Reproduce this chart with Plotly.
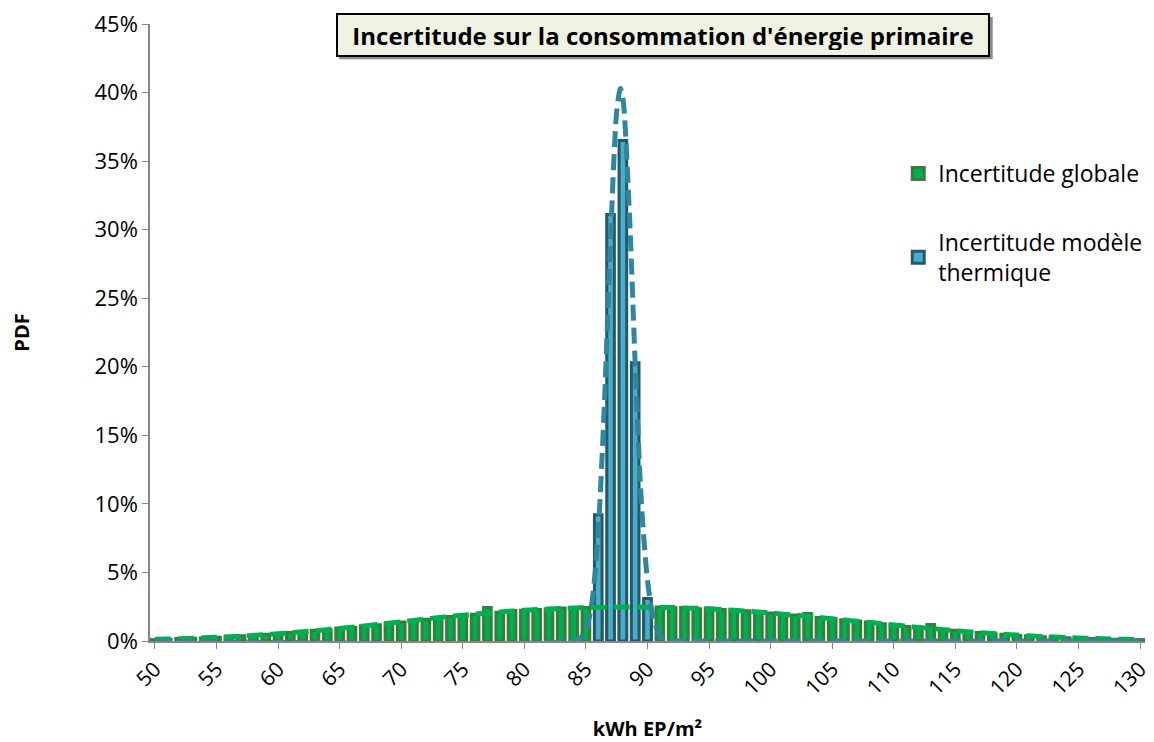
import plotly.graph_objects as go

# x positions (kWh EP/m2), one bin per unit
x_glob = list(range(50, 131))

# global uncertainty: bar heights (%)
glob_bars = [0.10, 0.12, 0.18, 0.20, 0.22, 0.28, 0.30, 0.38, 0.40, 0.50,
             0.52, 0.62, 0.66, 0.78, 0.82, 0.95, 1.00, 1.12, 1.18, 1.32,
             1.38, 1.52, 1.58, 1.74, 1.78, 1.92, 1.95, 2.45, 2.10, 2.22,
             2.25, 2.30, 2.32, 2.40, 2.38, 2.45, 2.44, 2.48, 2.46, 2.50,
             2.45, 2.48, 2.42, 2.44, 2.36, 2.40, 2.30, 2.28, 2.20, 2.14,
             2.05, 1.98, 1.90, 2.00, 1.72, 1.64, 1.55, 1.45, 1.38, 1.25,
             1.20, 1.06, 1.02, 1.20, 0.85, 0.78, 0.66, 0.62, 0.52, 0.50,
             0.40, 0.39, 0.31, 0.30, 0.24, 0.22, 0.18, 0.16, 0.13, 0.12,
             0.10]

# global uncertainty: fitted curve (%)
glob_curve = [0.12, 0.14, 0.17, 0.20, 0.23, 0.27, 0.31, 0.36, 0.41, 0.47,
              0.53, 0.60, 0.67, 0.75, 0.83, 0.92, 1.01, 1.10, 1.20, 1.30,
              1.40, 1.50, 1.60, 1.70, 1.80, 1.88, 1.96, 2.04, 2.11, 2.18,
              2.24, 2.29, 2.34, 2.38, 2.41, 2.44, 2.46, 2.47, 2.48, 2.48,
              2.47, 2.46, 2.44, 2.41, 2.38, 2.34, 2.29, 2.24, 2.18, 2.11,
              2.04, 1.96, 1.88, 1.80, 1.71, 1.62, 1.53, 1.44, 1.35, 1.26,
              1.17, 1.08, 0.99, 0.91, 0.83, 0.75, 0.68, 0.61, 0.55, 0.49,
              0.43, 0.38, 0.33, 0.29, 0.25, 0.22, 0.19, 0.16, 0.14, 0.12,
              0.10]

# thermal model uncertainty: bars (%)
x_therm = [86, 87, 88, 89, 90]
therm_bars = [9.2, 31.1, 36.5, 20.3, 3.1]

# thermal model uncertainty: fitted curve (%)
x_therm_curve = [50, 84, 84.5, 85, 85.5, 86, 86.5, 87, 87.5, 87.8, 88, 88.5,
                 89, 89.5, 90, 90.5, 91, 91.5, 92, 130]
therm_curve = [0, 0, 0.2, 0.8, 2.9, 8.0, 17.3, 29.3, 38.6, 40.3, 39.6, 31.8,
               20.2, 10.2, 4.4, 1.6, 0.4, 0, 0, 0]

green = "#00b050"
green_dark = "#377d3b"
blue = "#4bacc6"
blue_dark = "#215a6d"
blue_line = "#31859c"
font = "Open Sans"
title_text = "<b>Incertitude sur la consommation d'énergie primaire</b>"

fig = go.Figure()
fig.add_trace(go.Bar(
    x=x_glob, y=glob_bars, width=0.62, name="Incertitude globale",
    marker=dict(color=green, line=dict(color=green_dark, width=3)),
    legendgroup="g", legendrank=1))
fig.add_trace(go.Bar(
    x=x_therm, y=therm_bars, width=0.62,
    name="Incertitude modèle<br>thermique",
    marker=dict(color=blue, line=dict(color=blue_dark, width=3)),
    legendgroup="t", legendrank=2))
fig.add_trace(go.Scatter(
    x=x_glob, y=glob_curve, mode="lines", showlegend=False,
    line=dict(color=green, width=5, dash="16px,7px", shape="spline")))
fig.add_trace(go.Scatter(
    x=x_therm_curve, y=therm_curve, mode="lines", showlegend=False,
    line=dict(color=blue_line, width=5, dash="16px,7px", shape="spline",
              smoothing=0.8)))

# page has an 8px body margin, so margins are trimmed to compensate
fig.update_layout(
    width=1154, height=742,
    margin=dict(l=142, r=17, t=16, b=109),
    paper_bgcolor="white", plot_bgcolor="white",
    barmode="overlay",
    font=dict(family=font, size=20, color="black"),
    legend=dict(x=0.752, y=0.7925, xanchor="left", yanchor="top",
                font=dict(size=23), tracegroupgap=36,
                bgcolor="rgba(0,0,0,0)"),
    xaxis=dict(range=[49.6, 130.4], tickmode="linear", tick0=50, dtick=5,
               tickangle=-45, showgrid=False, zeroline=False,
               showline=True, linecolor="#868686", linewidth=1.5,
               ticks="outside", ticklen=6, tickcolor="#868686",
               tickfont=dict(size=21), automargin=False,
               ticklabeloverflow="allow",
               title=dict(text="<b>kWh EP/m²</b>", font=dict(size=20),
                          standoff=22)),
    yaxis=dict(range=[0, 45], tickmode="linear", tick0=0, dtick=5,
               ticksuffix="%", showgrid=False, zeroline=False,
               showline=True, linecolor="#868686", linewidth=1.5,
               ticks="outside", ticklen=6, tickcolor="#868686",
               tickfont=dict(size=22), automargin=False,
               ticklabeloverflow="allow",
               title=dict(text="<b>PDF</b>", font=dict(size=20),
                          standoff=60)),
)

# title box with a drop shadow behind it
fig.add_shape(type="rect", xref="paper", yref="paper",
              x0=0.190, x1=0.847, y0=0.943, y1=1.0113,
              fillcolor="rgba(0,0,0,0.45)", line=dict(width=0), layer="above")
fig.add_annotation(
    text=title_text, xref="paper", yref="paper", x=0.5156, y=0.982,
    xanchor="center", yanchor="middle", showarrow=False,
    width=640, height=30,
    font=dict(size=24, color="black"),
    bgcolor="#eff1e3", bordercolor="black", borderwidth=2, borderpad=5)

fig.write_html("out.html")
